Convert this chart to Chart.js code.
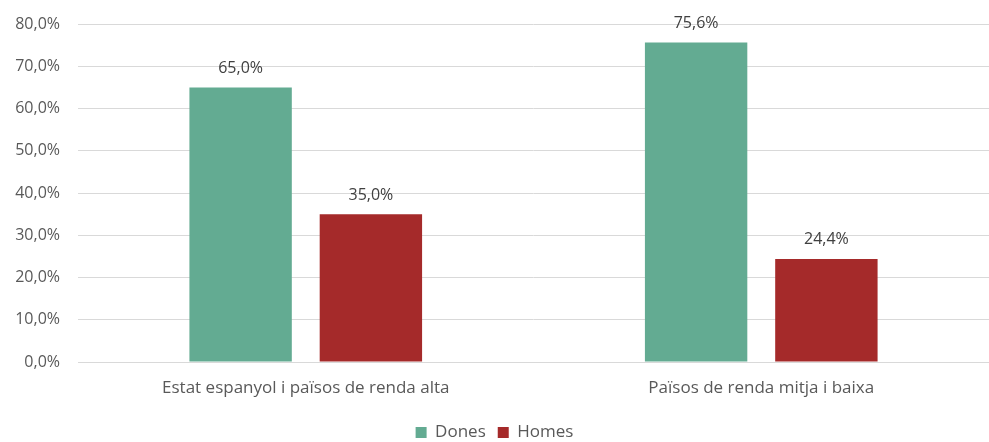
<!DOCTYPE html>
<html>
<head>
<meta charset="utf-8">
<script src="https://cdn.jsdelivr.net/npm/chart.js@4"></script>
<style>
  html, body { margin: 0; padding: 0; background: #fff; }
  #wrap { width: 989px; height: 442px; }
</style>
</head>
<body>
<div id="wrap"><canvas id="chart"></canvas></div>
<script>
const categories = ['Estat espanyol i països de renda alta', 'Països de renda mitja i baixa'];
const dones = [65.0, 75.6];
const homes = [35.0, 24.4];
const seriesNames = ['Dones', 'Homes'];
const yTicks = [0, 10, 20, 30, 40, 50, 60, 70, 80];

const fmt = v => v.toFixed(1).replace('.', ',') + '%';

// simple value labels above bars
const barLabels = {
  id: 'barLabels',
  afterDatasetsDraw(chart) {
    const ctx = chart.ctx;
    ctx.save();
    ctx.font = '16px "Open Sans", sans-serif';
    ctx.fillStyle = '#404040';
    ctx.textAlign = 'center';
    ctx.textBaseline = 'middle';
    chart.data.datasets.forEach((ds, i) => {
      chart.getDatasetMeta(i).data.forEach((bar, j) => {
        ctx.fillText(fmt(ds.data[j]), bar.x, bar.y - 19);
      });
    });
    ctx.restore();
  }
};

new Chart(document.getElementById('chart'), {
  type: 'bar',
  data: {
    labels: categories,
    datasets: [
      { label: seriesNames[0], data: dones, backgroundColor: '#63AB92' },
      { label: seriesNames[1], data: homes, backgroundColor: '#A52A2A' }
    ]
  },
  options: {
    responsive: true,
    maintainAspectRatio: false,
    animation: false,
    datasets: { bar: { categoryPercentage: 0.572, barPercentage: 0.786 } },
    layout: { padding: { left: 0, right: 0, top: 24, bottom: -9 } },
    plugins: {
      legend: {
        position: 'bottom',
        labels: {
          boxWidth: 11, boxHeight: 11, padding: 12,
          color: '#595959',
          font: { family: '"Open Sans", sans-serif', size: 17 }
        }
      },
      tooltip: { enabled: false }
    },
    scales: {
      x: {
        grid: { display: false },
        border: { color: '#D9D9D9' },
        afterFit: s => { s.height = 50; s.paddingLeft = 0; s.paddingRight = 0; },
        ticks: { color: '#595959', padding: 8, font: { family: '"Open Sans", sans-serif', size: 17 } }
      },
      y: {
        min: 0, max: 80,
        afterBuildTicks: s => { s.ticks = yTicks.map(v => ({ value: v })); },
        afterFit: s => { s.width = 78; s.paddingTop = 0; s.paddingBottom = 0; },
        grid: { color: '#D9D9D9', drawTicks: false },
        border: { display: false },
        ticks: {
          color: '#595959', padding: 18,
          font: { family: '"Open Sans", sans-serif', size: 16 },
          callback: v => fmt(v)
        }
      }
    }
  },
  plugins: [barLabels]
});
</script>
</body>
</html>
